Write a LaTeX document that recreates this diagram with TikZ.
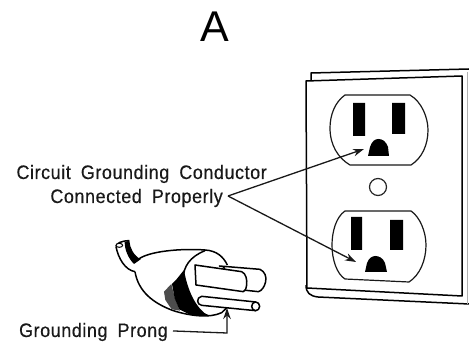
\documentclass[tikz,border=0pt]{standalone}
\usepackage{fontspec}
\setmainfont{Liberation Sans}
\newfontfamily\lblf[WordSpace=1.8,FakeStretch=0.92,LetterSpace=3,FakeBold=0.4]{Liberation Sans}
\usetikzlibrary{arrows.meta}
\tikzset{
  ln/.style={draw=black,line width=1.5pt,line join=round},
  thin ln/.style={draw=black!90,line width=1.2pt,line join=round},
  lbl/.style={inner sep=0pt,font=\lblf\fontsize{19.5}{21}\selectfont,text=black!90},
  lead/.style={draw=black!90,line width=1.3pt,-{Stealth[length=11pt,width=7.5pt]}},
  solid fill/.style={fill=black,draw=none}
}
\begin{document}
\begin{tikzpicture}[x=1pt,y=-1pt]
\useasboundingbox (0,0) rectangle (469,344);
\node[inner sep=0pt,font=\fontsize{43}{48}\selectfont] (title) at (215,27) {A};
% wall plate
\draw[ln] (311,80) -- (311,73) -- (469,69);
\draw[ln] (306,81) -- (462,76) -- (462,296) -- (307,288) -- cycle;
\draw[ln] (306,285) .. controls (306,293) and (310,296) .. (318,297) -- (469,304);
\draw[draw=black!30,line width=1pt] (467,72) -- (467,304);
% upper outlet
\draw[thin ln] (345,95) -- (410,95) .. controls (422,102) and (428,118) .. (428,130)
  .. controls (428,145) and (422,158) .. (411,165) -- (350,165)
  .. controls (338,158) and (330,145) .. (330,128) .. controls (330,115) and (335,102) .. (345,95) -- cycle;
\fill[solid fill] (353,103) rectangle (365,136) (392,103) rectangle (405,134);
\fill[solid fill] (368,156) -- (370,147) .. controls (372,141) and (375,139) .. (378.5,139)
  .. controls (382,139) and (386,141) .. (388,147) -- (389,156) -- cycle;
% centre screw
\node[draw=black!85,line width=1.2pt,circle,minimum size=17pt,inner sep=0pt] (screw) at (378,187) {};
% lower outlet
\draw[thin ln] (345,211) -- (411,211) .. controls (420,217) and (426,232) .. (426,245)
  .. controls (426,260) and (420,275) .. (409,282) -- (345,279)
  .. controls (337,274) and (332,260) .. (332,245) .. controls (332,232) and (336,217) .. (345,211) -- cycle;
\fill[solid fill] (351,217) rectangle (362,250) (390,220) rectangle (403,250);
\fill[solid fill] (365,272) -- (367,263) .. controls (369,258) and (372,256) .. (375.5,256)
  .. controls (379,256) and (383,258) .. (385,263) -- (387,272) -- cycle;
% leaders
\node[lbl,anchor=base east] (circ) at (267,179) {Circuit Grounding Conductor};
\node[lbl,anchor=base east] (conn) at (223,203) {Connected Properly};
\coordinate (apex) at (228,196);
\coordinate (tipA) at (364,149);
\coordinate (tipB) at (356,262);
\draw[lead] (apex) -- (tipA);
\draw[lead] (apex) -- (tipB);
% plug
\begin{scope}[shift={(90,220)},x=0.3333pt,y=-0.3333pt]
\fill[black] (104,66) -- (118,62) .. controls (120,85) and (130,105) .. (152,118) -- (132,132) .. controls (115,115) and (104,90) .. (104,66) -- cycle;
\draw[ln] (78,80) .. controls (78,70) and (95,62) .. (118,62);
\draw[ln] (78,80) .. controls (85,115) and (105,150) .. (135,155);
\draw[line width=1pt,fill=white] (88,76) ellipse[x radius=10,y radius=6];
% body
\draw[ln] (140,122) .. controls (170,92) and (280,85) .. (345,90) .. controls (380,92) and (400,110) .. (412,135);
\draw[ln] (135,155) .. controls (145,215) and (190,250) .. (250,272) .. controls (300,288) and (360,295) .. (395,278) -- (412,262);
\draw[ln] (345,92) .. controls (300,110) and (280,140) .. (280,175) .. controls (280,225) and (310,275) .. (355,287);
% shading
\fill[black!70] (244,192) -- (222,215) -- (226,240) -- (245,268) -- (270,272) -- (255,235) -- cycle;
\fill[black] (282,150) -- (270,165) -- (258,180) -- (246,192) -- (254,235) -- (268,268) -- (300,284) -- (355,287)
  .. controls (325,270) and (295,225) .. (282,150) -- cycle;
% blades
\draw[ln,fill=white] (388,138) -- (510,148) .. controls (525,155) and (530,170) .. (527,185)
  .. controls (524,200) and (515,213) .. (505,215) -- (440,208) -- (400,140) -- cycle;
\draw[ln,fill=white] (315,135) -- (455,155) .. controls (468,160) and (472,180) .. (470,195)
  .. controls (468,208) and (465,213) .. (460,215) -- (318,195) -- cycle;
\draw[ln,fill=white] (335,229) -- (497,246) -- (497,272) -- (335,256)
  .. controls (320,255) and (318,232) .. (335,229) -- cycle;
\draw[ln,fill=white] (497,259) ellipse[x radius=12,y radius=13];
\end{scope}
\node[lbl,anchor=base east] (prong) at (168,337) {Grounding Prong};
\coordinate (tipC) at (227,308);
\draw[lead] (prong.east) ++(5,-1) coordinate (st) -- (227,333) -- (tipC);
\end{tikzpicture}
\end{document}
